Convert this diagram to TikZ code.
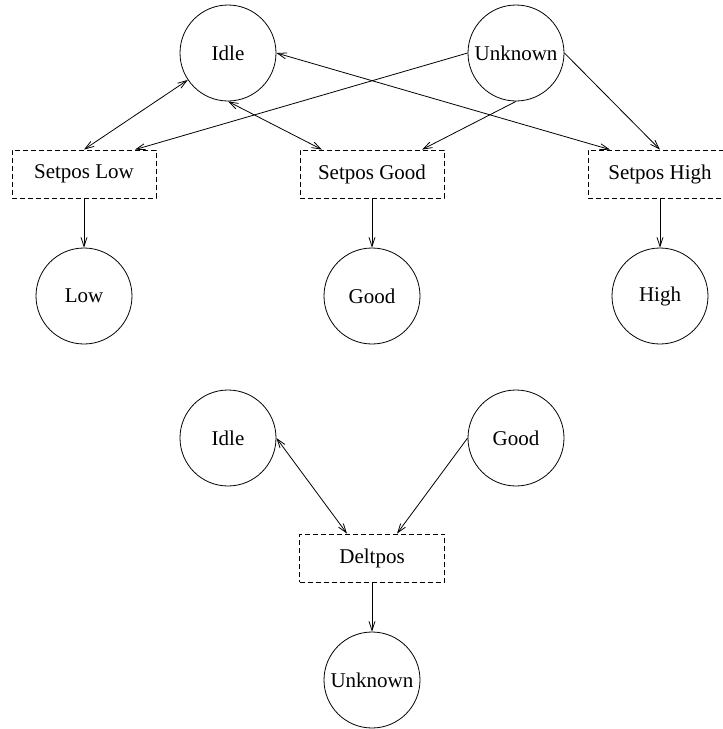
\documentclass[tikz,border=0pt]{standalone}
\usepackage{fontspec}
\setmainfont{Liberation Serif}
\usetikzlibrary{arrows.meta}

\tikzset{
  state/.style={draw, circle, minimum size=96pt, inner sep=0pt, line width=0.8pt},
  action/.style={draw, dashed, dash pattern=on 5pt off 3pt, minimum width=144pt, minimum height=48pt, inner sep=0pt, line width=0.8pt},
  link/.style={line width=0.8pt, -{Straight Barb[length=9pt,width=6pt]}},
  twolink/.style={line width=0.8pt, {Straight Barb[length=9pt,width=6pt]}-{Straight Barb[length=9pt,width=6pt]}}
}

\begin{document}
\begin{tikzpicture}[x=1pt, y=-1pt, font=\fontsize{21}{25}\selectfont]
    \useasboundingbox (0,0) rectangle (723,729);

    % Upper part: the states before
    \node[state] (idle) at (228,53) {Idle};
    \node[state] (unknown) at (516,53) {Unknown};

    % Set position actions
    \node[action] (setlow) at (84,174) {Setpos Low};
    \node[action] (setgood) at (372,174) {Setpos Good};
    \node[action] (sethigh) at (660,174) {Setpos High};

    % Resulting states
    \node[state] (low) at (84,296) {Low};
    \node[state] (good) at (372,296) {Good};
    \node[state] (high) at (660,296) {High};

    % Arrows from Idle and Unknown into the actions
    \draw[twolink] (idle) -- (setlow.north);
    \draw[link] (unknown.west) -- ([xshift=51pt]setlow.north);
    \draw[twolink] (idle.south) -- ([xshift=-50pt]setgood.north);
    \draw[link] (unknown.south) -- ([xshift=50pt]setgood.north);
    \draw[twolink] (idle.east) -- ([xshift=-50pt]sethigh.north);
    \draw[link] (unknown.east) -- (sethigh.north);

    % Actions to results
    \draw[link] (setlow) -- (low);
    \draw[link] (setgood) -- (good);
    \draw[link] (sethigh) -- (high);

    % Lower part: the Deltpos action
    \node[state] (idleb) at (228,438) {Idle};
    \node[state] (goodb) at (516,438) {Good};
    \node[action, minimum width=145pt] (deltpos) at (372,558) {Deltpos};
    \node[state] (unknownb) at (372,680) {Unknown};

    \draw[twolink] (idleb.east) -- ([xshift=-25pt]deltpos.north);
    \draw[link] (goodb.west) -- ([xshift=25pt]deltpos.north);
    \draw[link] (deltpos) -- (unknownb);
\end{tikzpicture}
\end{document}
